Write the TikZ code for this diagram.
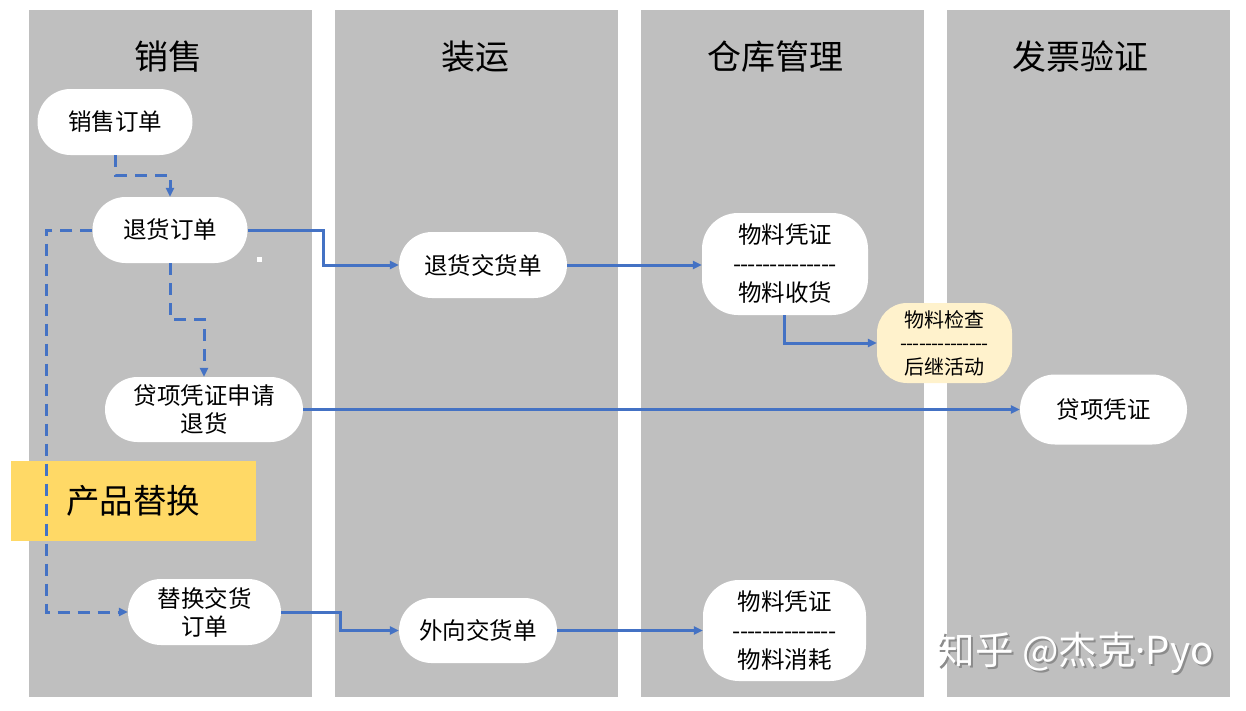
\documentclass[tikz,border=0pt]{standalone}
\usepackage{fontspec}
\setmainfont{Noto Sans CJK SC}
\newfontfamily\latinfont{Noto Sans}
\usetikzlibrary{arrows.meta}
\definecolor{lane}{HTML}{BFBFBF}
\definecolor{flow}{HTML}{4472C4}
\definecolor{tagyellow}{HTML}{FFD966}
\definecolor{paleyellow}{HTML}{FFF2CC}
\newcommand\hy{-\kern-0.035em}
\newcommand\hyrow{\hy\hy\hy\hy\hy\hy\hy\hy\hy\hy\hy\hy\hy-}
\tikzset{
  lanebg/.style={fill=lane},
  lanetitle/.style={font=\fontsize{34}{38}\selectfont, inner sep=0pt},
  pill/.style={fill=white, inner sep=0pt, align=center,
    font=\fontsize{23.5}{28}\selectfont},
  flowline/.style={draw=flow, line width=3pt, -{Triangle[length=9pt,width=8pt]}},
  dashflow/.style={flowline, dash pattern=on 12pt off 8pt},
}
\begin{document}
\begin{tikzpicture}[x=1pt,y=-1pt]
\useasboundingbox (0,0) rectangle (1246,710);
% lanes
\fill[lanebg] (29,10) rectangle (312,697);
\fill[lanebg] (335,10) rectangle (618,697);
\fill[lanebg] (641,10) rectangle (924,697);
\fill[lanebg] (947,10) rectangle (1230,697);
% titles
\node[lanetitle] (t1) at (168,57) {销售};
\node[lanetitle] (t2) at (475,57) {装运};
\node[lanetitle] (t3) at (775,57) {仓库管理};
\node[lanetitle] (t4) at (1080,57) {发票验证};
% product replacement tag
\node[fill=tagyellow, minimum width=245pt, minimum height=80pt, inner sep=0pt] (tag) at (133.5,501) {};
\node[font=\fontsize{33.5}{38}\selectfont, inner sep=0pt, anchor=west] (tagtext) at (66,501) {产品替换};
% nodes
\node[pill, minimum width=155pt, minimum height=66pt, rounded corners=33pt] (xs) at (115,122) {销售订单};
\node[pill, minimum width=155pt, minimum height=66pt, rounded corners=33pt] (rt) at (170,230) {退货订单};
\node[pill, minimum width=168pt, minimum height=66pt, rounded corners=33pt] (rd) at (483,265) {退货交货单};
\node[pill, minimum width=166pt, minimum height=102pt, rounded corners=36pt, font=\fontsize{23.5}{29}\selectfont] (mr) at (785,264) {物料凭证\\\hyrow\\物料收货};
\node[pill, fill=paleyellow, minimum width=135pt, minimum height=80pt, rounded corners=30pt, font=\fontsize{20}{23.5}\selectfont] (mc) at (944.5,343) {物料检查\\\hyrow\\后继活动};
\node[pill, minimum width=198pt, minimum height=65pt, rounded corners=32.5pt] (cr) at (204,409.5) {贷项凭证申请\\退货};
\node[pill, minimum width=167pt, minimum height=70pt, rounded corners=35pt] (cm) at (1103.5,409.5) {贷项凭证};
\node[pill, minimum width=153pt, minimum height=66pt, rounded corners=33pt] (rp) at (204.5,612) {替换交货\\订单};
\node[pill, minimum width=158pt, minimum height=65pt, rounded corners=32.5pt] (od) at (478,630.5) {外向交货单};
\node[pill, minimum width=163pt, minimum height=101pt, rounded corners=36pt, font=\fontsize{23.5}{29}\selectfont] (mg) at (784.5,630.5) {物料凭证\\\hyrow\\物料消耗};
% small white mark
\fill[white] (257,257) rectangle (262,262);
% dashed connectors
\draw[dashflow] (xs.south) -- ++(0,20) -| (rt.north);
\draw[dashflow] (rt.south) -- ++(0,56) -| (cr.north);
\draw[dashflow] (rt.west) -- (46,230) |- (rp.west);
% solid connectors
\draw[flowline] (rt.east) -- (323,230) |- (rd.west);
\draw[flowline] (rd.east) -- (mr.west |- rd.east);
\draw[flowline] (mr.south -| 784,0) |- (mc.west);
\draw[flowline] (cr.east) -- (cm.west |- cr.east);
\draw[flowline] (rp.east) -- (340,612) |- (od.west);
\draw[flowline] (od.east) -- (mg.west |- od.east);
% watermark
\node[font=\fontsize{38.5}{42}\selectfont, text=black!45, inner sep=0pt] (wms) at (1077,655) {知乎 @杰克{\latinfont·}Pyo};
\node[font=\fontsize{38.5}{42}\selectfont, text=white, inner sep=0pt] (wm) at (1075,653) {知乎 @杰克{\latinfont·}Pyo};
\end{tikzpicture}
\end{document}
